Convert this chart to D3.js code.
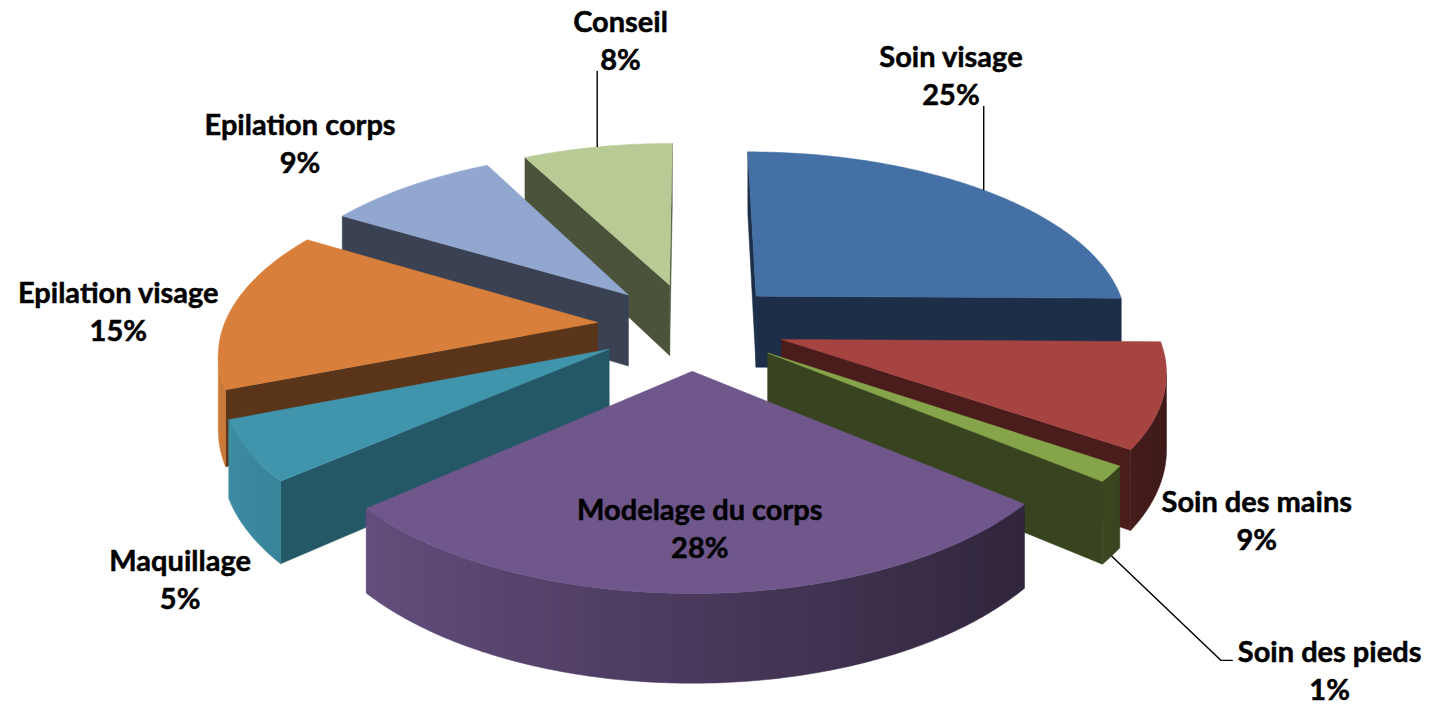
<!DOCTYPE html>
<html>
  <head>
    <meta charset="utf-8" />
    <title>Répartition des prestations</title>
    <script src="https://d3js.org/d3.v7.min.js"></script>
    <style>
      body {
        margin: 0;
        background: #fff;
      }
      .label text {
        font-family: Lato, "Open Sans", "Liberation Sans", sans-serif;
        font-weight: 700;
        font-size: 29px;
        fill: #000;
        stroke: #000;
        stroke-width: 0.5px;
        text-anchor: middle;
      }
      .leader {
        fill: none;
        stroke: #000;
        stroke-width: 1.4px;
      }
    </style>
  </head>
  <body>
    <svg width="1437" height="707"></svg>
    <script>
      // données (parts estimées d'après les angles des secteurs)
      const categories = [
        "Soin visage",
        "Soin des mains",
        "Soin des pieds",
        "Modelage du corps",
        "Maquillage",
        "Epilation visage",
        "Epilation corps",
        "Conseil",
      ];
      const values = [25.2, 9.4, 1.4, 27.6, 5.4, 14.6, 8.8, 7.6];

      // couleurs (dessus / faces coupées)
      const topColors = ["#4470a5", "#a64442", "#86a44a", "#6f578c", "#4095ad", "#d8803b", "#91a7cf", "#b8cb95"];
      const cutColors = ["#1c2e48", "#4a1c1b", "#37441f", "#2f2540", "#245866", "#5b3519", "#3a4152", "#4b543a"];

      // placement des étiquettes (angle en degrés, rayon relatif) + traits de rappel
      const labelAngles = [26.75, 127.9, 140.1, 178.9, 222.0, 270.9, 313.4, 353.2];
      const labelRadii = [1.944, 1.631, 2.041, 1.035, 1.665, 1.537, 1.687, 2.082];
      const leaderTypes = ["up", null, "elbow", null, null, null, null, "up"];
      const leaderAngles = [45, null, null, null, null, null, null, 346.3];

      const svg = d3.select("svg");
      const rad = Math.PI / 180;

      // projection 3D (perspective simple)
      const cx = 691, cy = 326, A = 374, B = 174, persp = 0.149, thick = 73, explode = 0.251;
      function project(X, Z, h) {
        const w = 1 + persp * Z;
        return [cx + (A * X) / w, cy + (-B * Z + thick * h) / w];
      }

      const data = categories.map((c, i) => ({ name: c, value: values[i], i }));
      const total = d3.sum(values);
      const arcs = d3.pie().sort(null).value((d) => d.value)(data);
      arcs.forEach((a) => {
        const mid = (a.startAngle + a.endAngle) / 2;
        a.mid = mid;
        a.ox = explode * Math.sin(mid);
        a.oz = explode * Math.cos(mid);
      });

      function pt(a, ang, r, h) {
        return project(a.ox + r * Math.sin(ang), a.oz + r * Math.cos(ang), h);
      }
      function angles(t0, t1) {
        const n = Math.max(2, Math.ceil((t1 - t0) / 0.01));
        return d3.range(n + 1).map((k) => t0 + ((t1 - t0) * k) / n);
      }
      function area(p) {
        let s = 0;
        for (let k = 0; k < p.length; k++) {
          const q = p[(k + 1) % p.length];
          s += p[k][0] * q[1] - q[0] * p[k][1];
        }
        return s;
      }
      const line = d3.line().curve(d3.curveLinearClosed);
      const defs = svg.append("defs");

      // faces latérales
      const sides = [];
      arcs.forEach((a) => {
        const i = a.data.i;
        // faces coupées
        [
          [a.startAngle, -1],
          [a.endAngle, 1],
        ].forEach(([ang, sign]) => {
          const quad = [pt(a, ang, 0, 0), pt(a, ang, 1, 0), pt(a, ang, 1, 1), pt(a, ang, 0, 1)];
          if (area(quad) * sign > 0) {
            sides.push({ pts: quad, fill: cutColors[i], z: a.oz + 0.5 * Math.cos(ang) });
          }
        });
        // face extérieure : segments visibles
        const ts = angles(a.startAngle, a.endAngle);
        const vis = [];
        for (let k = 0; k < ts.length - 1; k++) {
          const q = [pt(a, ts[k], 1, 0), pt(a, ts[k + 1], 1, 0), pt(a, ts[k + 1], 1, 1), pt(a, ts[k], 1, 1)];
          if (area(q) < 0) vis.push(k);
        }
        if (vis.length) {
          const vt = ts.slice(vis[0], vis[vis.length - 1] + 2);
          const topPts = vt.map((t) => pt(a, t, 1, 0));
          const botPts = vt.map((t) => pt(a, t, 1, 1)).reverse();
          const xs = topPts.map((p) => p[0]);
          const x0 = d3.min(xs), x1 = d3.max(xs);
          const gid = "side" + i;
          const g = defs
            .append("linearGradient")
            .attr("id", gid)
            .attr("gradientUnits", "userSpaceOnUse")
            .attr("x1", x0)
            .attr("x2", x1)
            .attr("y1", 0)
            .attr("y2", 0);
          const base = d3.rgb(topColors[i]);
          const stops = vt
            .map((t, k) => ({ off: x1 > x0 ? (xs[k] - x0) / (x1 - x0) : 0, f: 0.66 - 0.3 * Math.sin(t) }))
            .sort((p, q) => p.off - q.off);
          stops.forEach((s) => {
            g.append("stop")
              .attr("offset", s.off)
              .attr("stop-color", d3.rgb(base.r * s.f, base.g * s.f, base.b * s.f).formatHex());
          });
          sides.push({ pts: topPts.concat(botPts), fill: `url(#${gid})`, z: a.oz + d3.mean(vt, (t) => Math.cos(t)) });
        }
      });

      sides.sort((p, q) => q.z - p.z);
      svg
        .append("g")
        .selectAll("path")
        .data(sides)
        .join("path")
        .attr("d", (d) => line(d.pts))
        .attr("fill", (d) => d.fill)
        .attr("stroke", (d) => d.fill)
        .attr("stroke-width", 0.5)
        .attr("stroke-linejoin", "round");

      // faces supérieures
      svg
        .append("g")
        .selectAll("path")
        .data(arcs)
        .join("path")
        .attr("d", (a) => line([pt(a, 0, 0, 0)].concat(angles(a.startAngle, a.endAngle).map((t) => pt(a, t, 1, 0)))))
        .attr("fill", (a) => topColors[a.data.i])
        .attr("stroke", (a) => topColors[a.data.i])
        .attr("stroke-width", 0.5);

      // étiquettes
      const fmt = d3.format(".0%");
      svg
        .append("g")
        .attr("class", "label")
        .selectAll("g")
        .data(arcs)
        .join("g")
        .each(function (a) {
          const i = a.data.i;
          const la = labelAngles[i] * rad, lr = labelRadii[i];
          const p = project(lr * Math.sin(la), lr * Math.cos(la), 0);
          const g = d3.select(this);
          const t1 = g.append("text").attr("x", p[0]).attr("y", p[1] - 19).text(a.data.name);
          g.append("text").attr("x", p[0]).attr("y", p[1] + 19).text(fmt(a.data.value / total));
          a.lab = { x: p[0], b1: p[1] - 19, b2: p[1] + 19, w1: t1.node().getComputedTextLength() };
        });

      // traits de rappel
      const leaders = arcs.filter((a) => leaderTypes[a.data.i]);
      svg
        .append("g")
        .selectAll("path")
        .data(leaders)
        .join("path")
        .attr("class", "leader")
        .attr("d", (a) => {
          const i = a.data.i;
          if (leaderTypes[i] === "up") {
            const s = pt(a, leaderAngles[i] * rad, 1, 0);
            return d3.line()([s, [s[0], a.lab.b2 + 1]]);
          }
          const s = pt(a, a.mid, 1, 1);
          const left = a.lab.x - a.lab.w1 / 2;
          return d3.line()([s, [left - 17, a.lab.b1 - 2], [left - 5, a.lab.b1 - 2]]);
        });
    </script>
  </body>
</html>
